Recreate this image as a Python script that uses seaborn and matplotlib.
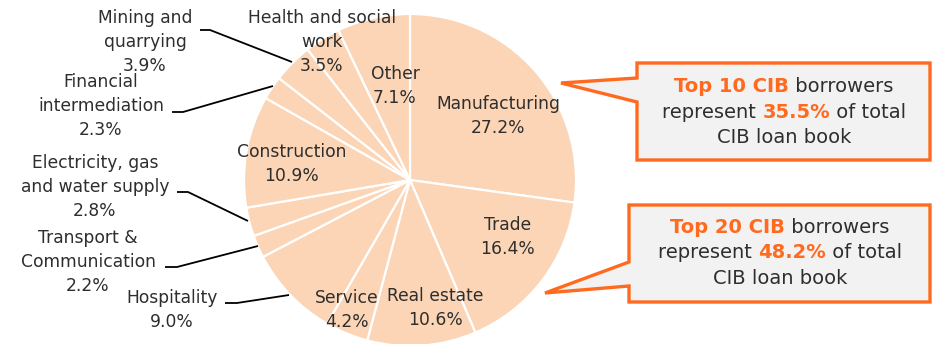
import matplotlib
matplotlib.use("Agg")
import matplotlib.pyplot as plt
from matplotlib.patches import Polygon
import seaborn as sns

# ---- data -------------------------------------------------------------
sectors = ["Manufacturing", "Trade", "Real estate", "Service", "Hospitality",
           "Transport &\nCommunication", "Electricity, gas\nand water supply",
           "Construction", "Financial\nintermediation", "Mining and\nquarrying",
           "Health and social\nwork", "Other"]
shares = [27.2, 16.4, 10.6, 4.2, 9.0, 2.2, 2.8, 10.9, 2.3, 3.9, 3.5, 7.1]

top10_share = 35.5
top20_share = 48.2

# ---- layout (pixel coordinates, y downwards) ---------------------------
label_xy = [(498, 116), (508, 237), (435, 308), (347, 310), (172, 310),
            (88, 262), (95, 187), (292, 164), (101, 106), (145, 42),
            (322, 42), (395, 86)]
# leader lines for labels placed outside the pie
leaders = {
    "Hospitality": [(225, 303), (237, 303), (289, 295)],
    "Transport &\nCommunication": [(165, 267), (177, 267), (258, 246)],
    "Electricity, gas\nand water supply": [(177, 192), (188, 192), (248, 221)],
    "Financial\nintermediation": [(172, 112), (183, 112), (273, 86)],
    "Mining and\nquarrying": [(200, 30), (210, 30), (292, 62)],
}

PIE_FILL = "#FBD5B5"
ORANGE = "#FF6A1F"
TEXT = "#2E2E2E"
BOX_FILL = "#F2F2F2"
LABEL_SIZE = 12.3
LABEL_STEP = 24
BOX_SIZE = 14.0
BOX_STEP = 25.5

sns.set_theme(style="white")
plt.rcParams["font.family"] = ["DejaVu Sans"]

fig = plt.figure(figsize=(9.32, 3.44), dpi=100)
ax = fig.add_axes([0, 0, 1, 1])

ax.pie(shares, colors=[PIE_FILL] * len(shares), startangle=-90,
       counterclock=True, center=(410, 180), radius=166,
       wedgeprops=dict(edgecolor="white", linewidth=1.6))

ax.set_xlim(0, 932)
ax.set_ylim(344, 0)
ax.set_aspect("equal")
ax.axis("off")

# sector labels, one text per line so each line keeps a tight box
for name, val, (x, y) in zip(sectors, shares, label_xy):
    lines = name.split("\n") + [f"{val:.1f}%"]
    n = len(lines)
    for i, line in enumerate(lines):
        ax.text(x, y + (i - (n - 1) / 2) * LABEL_STEP, line,
                ha="center", va="center", fontsize=LABEL_SIZE, color=TEXT)
    if name in leaders:
        xs, ys = zip(*leaders[name])
        ax.plot(xs, ys, color="black", lw=1.3, solid_capstyle="butt")


# ---- callout boxes --------------------------------------------------------
def callout(x0, x1, y0, y1, n0, n1, tip):
    pts = [(x0, y0), (x1, y0), (x1, y1), (x0, y1), (x0, n1), tip, (x0, n0)]
    ax.add_patch(Polygon(pts, closed=True, facecolor=BOX_FILL,
                         edgecolor=ORANGE, lw=2.4, joinstyle="miter",
                         zorder=5))


renderer = fig.canvas.get_renderer()


def seg_width(s, weight):
    t = ax.text(0, 0, s + "|", fontsize=BOX_SIZE, fontweight=weight)
    b = ax.text(0, 0, "|", fontsize=BOX_SIZE, fontweight=weight)
    w = t.get_window_extent(renderer).width - b.get_window_extent(renderer).width
    t.remove()
    b.remove()
    return w


def rich_line(xc, y, segments):
    widths = [seg_width(s, w) for s, w, c in segments]
    x = xc - sum(widths) / 2
    for (s, w, c), wd in zip(segments, widths):
        ax.text(x, y, s, fontsize=BOX_SIZE, fontweight=w, color=c,
                ha="left", va="center", zorder=6)
        x += wd


def callout_text(xc, yc, top_n, share):
    lines = [
        [(f"Top {top_n} CIB", "bold", ORANGE), (" borrowers", "normal", TEXT)],
        [("represent ", "normal", TEXT), (f"{share:.1f}%", "bold", ORANGE),
         (" of total", "normal", TEXT)],
        [("CIB loan book", "normal", TEXT)],
    ]
    for i, segs in enumerate(lines):
        rich_line(xc, yc + (i - 1) * BOX_STEP, segs)


callout(637, 930, 63, 160, 78, 102, (561, 83))
callout_text(784, 112, 10, top10_share)

callout(629, 930, 205, 302, 262, 286, (545, 293))
callout_text(780, 253, 20, top20_share)

fig.savefig("out.png", dpi=100)
